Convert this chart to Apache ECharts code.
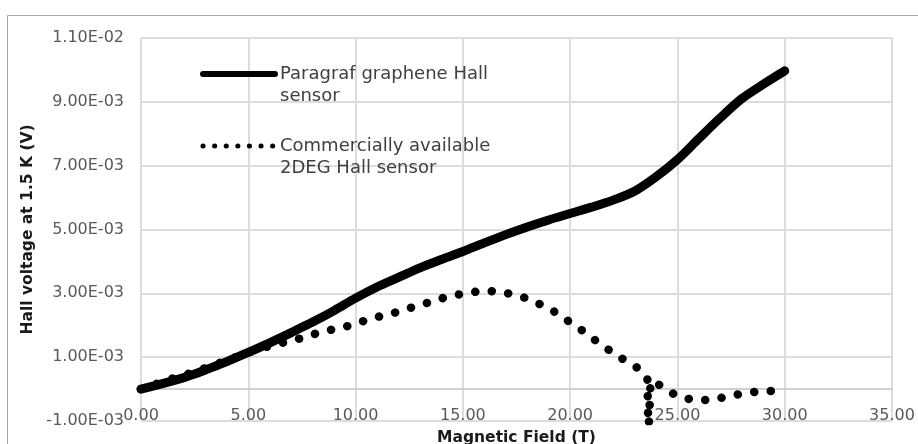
<!DOCTYPE html>
<html>
<head>
<meta charset="utf-8">
<script src="https://cdn.jsdelivr.net/npm/echarts@6/dist/echarts.min.js"></script>
<style>
html, body { margin: 0; padding: 0; background: #fff; }
#main { width: 918px; height: 444px; }
</style>
</head>
<body>
<div id="main"></div>
<script>
// Paragraf graphene sensor (T, V)
var grapheneB = [0, 1, 2, 2.5, 3, 4, 5, 6, 7, 7.5, 8, 9, 10, 11, 12, 13, 14, 15, 16, 17, 18, 19, 20, 21, 22, 23, 24, 25, 26, 27, 28, 29, 30];
var grapheneV = [0, 0.17e-3, 0.36e-3, 0.47e-3, 0.6e-3, 0.86e-3, 1.15e-3, 1.45e-3, 1.77e-3, 1.94e-3, 2.1e-3, 2.46e-3, 2.85e-3, 3.2e-3, 3.5e-3, 3.8e-3, 4.06e-3, 4.31e-3, 4.58e-3, 4.84e-3, 5.08e-3, 5.3e-3, 5.5e-3, 5.7e-3, 5.92e-3, 6.2e-3, 6.65e-3, 7.19e-3, 7.85e-3, 8.5e-3, 9.1e-3, 9.55e-3, 9.97e-3];

// commercial 2DEG sensor (T, V)
var commercialB = [0, 0.8, 1.5, 2.3, 3, 4, 5, 6, 6.7, 7.5, 8.2, 9, 9.8, 10.5, 11.3, 12.1, 12.8, 13.6, 14.3, 15.1, 16, 16.9, 17.7, 18.4, 19.1, 19.7, 20.3, 20.9, 21.5, 22.1, 22.7, 23.3, 23.6, 23.65, 23.75, 24.3, 24.9, 25.7, 26.6, 27.4, 28.2, 29, 30];
var commercialV = [0, 0.18e-3, 0.34e-3, 0.5e-3, 0.66e-3, 0.9e-3, 1.15e-3, 1.35e-3, 1.47e-3, 1.6e-3, 1.75e-3, 1.88e-3, 2.0e-3, 2.16e-3, 2.31e-3, 2.44e-3, 2.6e-3, 2.75e-3, 2.9e-3, 3.0e-3, 3.09e-3, 3.03e-3, 2.91e-3, 2.72e-3, 2.5e-3, 2.22e-3, 1.97e-3, 1.66e-3, 1.37e-3, 1.09e-3, 0.84e-3, 0.6e-3, 0.3e-3, -1.4e-3, 0.25e-3, 0.09e-3, -0.19e-3, -0.34e-3, -0.34e-3, -0.22e-3, -0.12e-3, -0.06e-3, -0.06e-3];

var seriesNames = ['Paragraf graphene Hall\nsensor', 'Commercially available\n2DEG Hall sensor'];

function pairs(xs, ys) {
    var out = [];
    for (var i = 0; i < xs.length; i++) {
        out.push([xs[i], ys[i]]);
    }
    return out;
}

//科学计数格式 1.10E-02
function sci(v) {
    return v.toExponential(2).toUpperCase().replace(/E([+-])(\d)$/, 'E$10$2');
}

var myChart = echarts.init(document.getElementById('main'));

var option = {
    backgroundColor: '#fff',
    animation: false,
    textStyle: {fontFamily: 'DejaVu Sans'},
    grid: {
        left: 141,
        right: 26,
        top: 38,
        bottom: 23,
        outerBoundsMode: 'none'
    },
    legend: {
        orient: 'vertical',
        left: 200,
        top: 41,
        padding: 0,
        itemGap: 6,
        itemWidth: 72,
        itemHeight: 14,
        selectedMode: false,
        // 空行放在前面，让图标对齐第一行文字
        formatter: function (name) { return '\n' + name; },
        textStyle: {
            fontSize: 18,
            color: '#404040',
            lineHeight: 22
        },
        data: [
            {name: seriesNames[0], itemStyle: {opacity: 0}, lineStyle: {width: 6, cap: 'round'}},
            {name: seriesNames[1], itemStyle: {opacity: 0}, lineStyle: {width: 5, type: [0.1, 11.5], cap: 'round'}}
        ]
    },
    xAxis: {
        type: 'value',
        min: 0,
        max: 35,
        interval: 5,
        name: 'Magnetic Field (T)',
        nameLocation: 'middle',
        nameGap: 9,
        nameMoveOverlap: false,
        nameTextStyle: {fontSize: 15.5, fontWeight: 'bold', color: '#1a1a1a'},
        axisLine: {show: true, onZero: true, lineStyle: {color: '#d0d0d0', width: 2}},
        axisTick: {show: false},
        axisLabel: {
            fontSize: 16,
            color: '#595959',
            margin: -13,
            hideOverlap: false,
            formatter: function (v) { return v.toFixed(2); }
        },
        splitLine: {show: true, lineStyle: {color: '#dcdcdc', width: 2}}
    },
    yAxis: {
        type: 'value',
        min: -0.001,
        max: 0.011,
        interval: 0.002,
        name: 'Hall voltage at 1.5 K (V)',
        nameLocation: 'middle',
        nameGap: 105,
        nameMoveOverlap: false,
        nameTextStyle: {fontSize: 15.5, fontWeight: 'bold', color: '#1a1a1a'},
        axisLine: {show: false},
        axisTick: {show: false},
        axisLabel: {
            fontSize: 16,
            color: '#595959',
            margin: 17,
            hideOverlap: false,
            formatter: sci
        },
        splitLine: {show: true, lineStyle: {color: '#dcdcdc', width: 2}}
    },
    series: [
        {
            name: seriesNames[0],
            type: 'line',
            data: pairs(grapheneB, grapheneV),
            symbol: 'none',
            smooth: 0.3,
            lineStyle: {color: '#000', width: 9, cap: 'round', join: 'round'},
            itemStyle: {color: '#000'},
            z: 3
        },
        {
            name: seriesNames[1],
            type: 'line',
            data: pairs(commercialB, commercialV),
            symbol: 'none',
            lineStyle: {color: '#000', width: 8.5, type: [0.1, 16.5], cap: 'round', join: 'round'},
            itemStyle: {color: '#000'},
            z: 2
        }
    ],
    graphic: [
        {
            type: 'rect',
            shape: {x: 7.5, y: 15.5, width: 940, height: 460},
            style: {fill: 'none', stroke: '#a6a6a6', lineWidth: 1},
            silent: true,
            z: -1
        }
    ]
};

myChart.setOption(option);
</script>
</body>
</html>
